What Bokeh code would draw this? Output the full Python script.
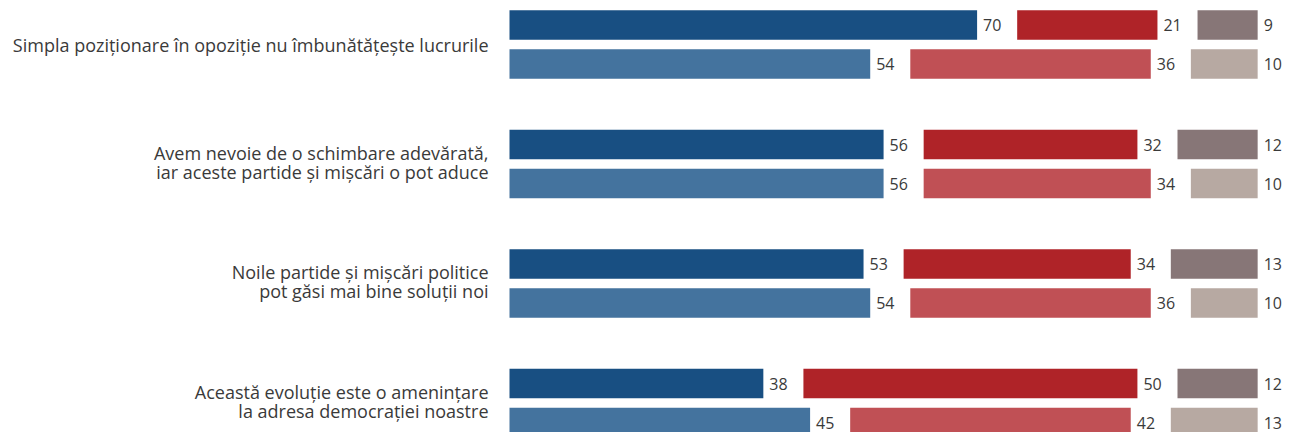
from bokeh.plotting import figure
from bokeh.models import ColumnDataSource, Range1d
from bokeh.core.properties import value
from bokeh.embed import file_html
from bokeh.resources import INLINE

# ---- data ----
statements = [
    ["Simpla poziționare în opoziție nu îmbunătățește lucrurile"],
    ["Avem nevoie de o schimbare adevărată,", "iar aceste partide și mișcări o pot aduce"],
    ["Noile partide și mișcări politice", "pot găsi mai bine soluții noi"],
    ["Această evoluție este o amenințare", "la adresa democrației noastre"],
]
agree_1 = [70, 56, 53, 38]
disagree_1 = [21, 32, 34, 50]
dontknow_1 = [9, 12, 13, 12]
agree_2 = [54, 56, 54, 45]
disagree_2 = [36, 34, 36, 42]
dontknow_2 = [10, 10, 10, 13]

# ---- styling / layout ----
C_AGREE = ["#184F82", "#44739E"]
C_DIS = ["#AF2328", "#C05055"]
C_DK = ["#877677", "#B7A9A2"]
TXT = "#3A3A3A"
FONT = "Open Sans"
GAP = 6          # gap between segments, in percent units
TOTAL = 100 + 2 * GAP

W, H = 1282, 432
SCALE = 6.68     # px per unit
X0_PX = 509      # frame px of x=0
Y0 = 24.5        # centre of first bar (frame px from top)
ROW_STEP = 39
GROUP_STEP = 119.5
BAR_H = 29.5

p = figure(width=W, height=H, output_backend="svg", toolbar_location=None,
           min_border=0, outline_line_color=None,
           x_range=Range1d(-X0_PX / SCALE, (W - X0_PX) / SCALE),
           y_range=Range1d(H, 0))
p.axis.visible = False
p.grid.visible = False
p.background_fill_color = "white"

rows = [(agree_1, disagree_1, dontknow_1, 0), (agree_2, disagree_2, dontknow_2, 1)]
for ag, di, dk, r in rows:
    ys = [Y0 + g * GROUP_STEP + r * ROW_STEP for g in range(len(ag))]
    d_left = [a + GAP for a in ag]
    d_right = [a + GAP + d for a, d in zip(ag, di)]
    k_left = [TOTAL - k for k in dk]
    src = ColumnDataSource(dict(y=ys, a0=[0] * len(ag), a1=list(ag), d0=d_left, d1=d_right,
                                k0=k_left, k1=[TOTAL] * len(dk),
                                at=[str(v) for v in ag], dt=[str(v) for v in di],
                                kt=[str(v) for v in dk]))
    p.hbar(y="y", left="a0", right="a1", height=BAR_H, source=src,
           fill_color=C_AGREE[r], line_color=None)
    p.hbar(y="y", left="d0", right="d1", height=BAR_H, source=src,
           fill_color=C_DIS[r], line_color=None)
    p.hbar(y="y", left="k0", right="k1", height=BAR_H, source=src,
           fill_color=C_DK[r], line_color=None)
    for xcol, tcol in (("a1", "at"), ("d1", "dt"), ("k1", "kt")):
        p.text(x=xcol, y="y", text=tcol, source=src, x_offset=6,
               text_align="left", text_baseline="middle",
               text_font=value(FONT), text_font_size="16px", text_color=TXT)

# statement labels
LINE_PITCH = 19
lx, ly, lt = [], [], []
for g, lines in enumerate(statements):
    n = len(lines)
    center = Y0 + g * GROUP_STEP + ROW_STEP / 2 - (2 if n > 1 else 0)
    for i, line in enumerate(lines):
        lx.append(0)
        ly.append(center + (i - (n - 1) / 2) * LINE_PITCH)
        lt.append(line)
p.text(x=lx, y=ly, text=lt, x_offset=-21, text_align="right", text_baseline="middle",
       text_font=value(FONT), text_font_size="18px", text_color=TXT)

open("out.html", "w").write(file_html(p, INLINE))
